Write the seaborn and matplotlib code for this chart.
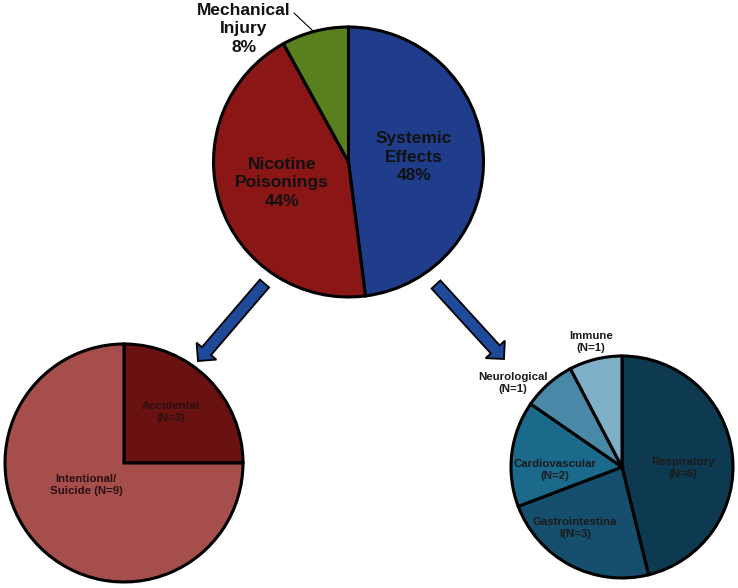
import matplotlib
matplotlib.use("Agg")
import matplotlib.pyplot as plt
from matplotlib.patches import FancyArrow
import seaborn as sns

# ---- data ----
top_labels = ["Systemic\nEffects", "Nicotine\nPoisonings", "Mechanical\nInjury"]
top_values = [48, 44, 8]
left_labels = ["Accidental\n(N=3)", "Intentional/\nSuicide (N=9)"]
left_values = [3, 9]
right_labels = ["Respiratory\n(N=6)", "Gastrointestina\nl(N=3)", "Cardiovascular\n(N=2)",
                "Neurological\n(N=1)", "Immune\n(N=1)"]
right_values = [6, 3, 2, 1, 1]

top_colors = ["#1F3D8A", "#8A1616", "#58801E"]
left_colors = ["#6A1111", "#A54E4C"]
right_colors = sns.color_palette(["#0D3A50", "#164F6E", "#1B6A8C", "#4A88A8", "#80B0C8"])

sns.set_theme(style="white")
plt.rcParams['font.family'] = ['Liberation Sans', 'DejaVu Sans']

W, H = 738, 588
fig = plt.figure(figsize=(W / 100, H / 100), dpi=100)
ax = fig.add_axes([0, 0, 1, 1])


def Y(y):
    return H - y


wp = dict(edgecolor="black", linewidth=2.2)

# top pie
ax.pie(top_values, colors=top_colors, startangle=90, counterclock=False,
       center=(348.5, Y(162)), radius=135, wedgeprops=wp, frame=False)
# bottom-left pie
ax.pie(left_values, colors=left_colors, startangle=90, counterclock=False,
       center=(124, Y(463)), radius=119, wedgeprops=wp, frame=False)
# bottom-right pie
ax.pie(right_values, colors=right_colors, startangle=90, counterclock=False,
       center=(622, Y(467)), radius=111, wedgeprops=wp, frame=False)

ax.set_xlim(0, W)
ax.set_ylim(0, H)
ax.set_aspect("equal")
ax.axis("off")

# top pie labels
top_pos = [(414, 157), (282, 183)]
for lab, val, (x, y) in zip(top_labels[:2], top_values[:2], top_pos):
    ax.text(x, Y(y), f"{lab}\n{val}%", ha="center", va="center", fontsize=12.5,
            fontweight="bold", color="#111111", linespacing=1.3)
ax.text(244, Y(29), f"{top_labels[2]}\n{top_values[2]}%", ha="center", va="center",
        fontsize=12.5, fontweight="bold", color="#111111", linespacing=1.3)
ax.plot([294, 313], [Y(13), Y(31)], color="black", lw=0.8)

# bottom-left labels
left_pos = [(171, 412), (86, 485)]
for lab, (x, y) in zip(left_labels, left_pos):
    ax.text(x, Y(y), lab, ha="center", va="center", fontsize=8.2,
            fontweight="bold", color="#2a1010", linespacing=1.2)

# bottom-right labels
right_pos = [(683, 468), (575, 528), (555, 470), (513, 383), (591, 342)]
for lab, (x, y) in zip(right_labels, right_pos):
    ax.text(x, Y(y), lab, ha="center", va="center", fontsize=8.2,
            fontweight="bold", color="#1a1a1a", linespacing=1.2)

# arrows
for (x0, y0), (x1, y1) in [((264.5, 283.5), (198, 361)), ((436, 284.5), (504, 359))]:
    arr = FancyArrow(x0, Y(y0), x1 - x0, Y(y1) - Y(y0), width=12, head_width=26,
                     head_length=13, length_includes_head=True,
                     facecolor="#1F4A9A", edgecolor="black", linewidth=1.3)
    ax.add_patch(arr)

fig.savefig("out.png", dpi=100)
